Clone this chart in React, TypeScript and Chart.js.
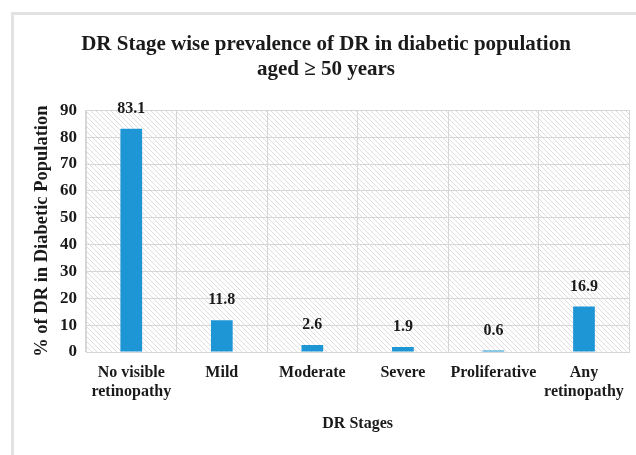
import { useEffect, useRef } from "react";
import { Chart, registerables } from "chart.js";

Chart.register(...registerables);

const titleLines = ["DR Stage wise prevalence of DR in diabetic population", "aged \u2265 50 years"];
const categories: (string | string[])[] = [
  ["No visible", "retinopathy"],
  "Mild",
  "Moderate",
  "Severe",
  "Proliferative",
  ["Any", "retinopathy"],
];
const prevalence = [83.1, 11.8, 2.6, 1.9, 0.6, 16.9];
const yMin = 0;
const yMax = 90;
const yStep = 10;
const yTitle = "% of DR in Diabetic Population";
const xTitle = "DR Stages";

const FONT = "'Liberation Serif', 'Times New Roman', serif";
const BAR = "#1e96d6";
const GRID = "#d6d6d6";

function makeHatch(): CanvasPattern | string {
  const s = 5;
  const c = document.createElement("canvas");
  c.width = s;
  c.height = s;
  const g = c.getContext("2d");
  if (!g) return "#eeeeee";
  g.fillStyle = "#ffffff";
  g.fillRect(0, 0, s, s);
  g.strokeStyle = "#dedede";
  g.lineWidth = 1;
  g.beginPath();
  g.moveTo(-1, -1);
  g.lineTo(s + 1, s + 1);
  g.moveTo(-1, s - 1);
  g.lineTo(1, s + 1);
  g.moveTo(s - 1, -1);
  g.lineTo(s + 1, 1);
  g.stroke();
  const p = g.createPattern(c, "repeat");
  return p || "#eeeeee";
}

const bgPlugin = {
  id: "bgHatch",
  beforeDraw(chart: any) {
    const { ctx, chartArea, width, height } = chart;
    ctx.save();
    ctx.fillStyle = "#ffffff";
    ctx.fillRect(0, 0, width, height);
    // outer frame
    ctx.fillStyle = "#e2e2e2";
    ctx.fillRect(11, 12, 3, height - 12);
    ctx.fillRect(11, 12, width - 11, 3);
    ctx.fillStyle = makeHatch();
    ctx.fillRect(chartArea.left, chartArea.top, chartArea.right - chartArea.left, chartArea.bottom - chartArea.top);
    ctx.restore();
  },
};

const labelPlugin = {
  id: "valueLabels",
  afterDatasetsDraw(chart: any) {
    const { ctx } = chart;
    const meta = chart.getDatasetMeta(0);
    const data = chart.data.datasets[0].data as number[];
    ctx.save();
    ctx.font = `bold 16px ${FONT}`;
    ctx.fillStyle = "#1a1a1a";
    ctx.textAlign = "center";
    ctx.textBaseline = "bottom";
    meta.data.forEach((el: any, i: number) => {
      ctx.fillText(data[i].toFixed(1), el.x, el.y - 12);
    });
    ctx.restore();
  },
};

export default function App() {
  const ref = useRef<HTMLCanvasElement | null>(null);

  useEffect(() => {
    if (!ref.current) return;
    const chart = new Chart(ref.current, {
      type: "bar",
      data: {
        labels: categories,
        datasets: [
          {
            data: prevalence,
            backgroundColor: BAR,
            borderWidth: 0,
            barPercentage: 0.48,
            categoryPercentage: 0.5,
          },
        ],
      },
      options: {
        responsive: true,
        maintainAspectRatio: false,
        animation: false,
        layout: { padding: { left: 18, right: 2, top: 0, bottom: 0 } },
        plugins: {
          legend: { display: false },
          tooltip: { enabled: false },
          title: {
            display: true,
            text: titleLines,
            color: "#1a1a1a",
            font: { family: FONT, size: 21, weight: "bold", lineHeight: 1.15 },
            padding: { top: 33, bottom: 29 },
          },
        },
        scales: {
          x: {
            grid: { display: true, color: GRID, drawTicks: false, offset: true },
            border: { display: true, color: GRID },
            ticks: {
              color: "#1a1a1a",
              font: { family: FONT, size: 16, weight: "bold", lineHeight: 1.15 },
              padding: 12,
              maxRotation: 0,
              autoSkip: false,
            },
            title: {
              display: true,
              text: xTitle,
              color: "#1a1a1a",
              font: { family: FONT, size: 16, weight: "bold" },
              padding: { top: 0, bottom: 22 },
            },
            afterFit: (s: any) => {
              s.height = 103;
            },
          },
          y: {
            min: yMin,
            max: yMax,
            grid: { color: GRID, drawTicks: false },
            border: { display: true, color: GRID },
            ticks: {
              stepSize: yStep,
              color: "#1a1a1a",
              font: { family: FONT, size: 17, weight: "bold" },
              padding: 9,
            },
            title: {
              display: true,
              text: yTitle,
              color: "#1a1a1a",
              font: { family: FONT, size: 18.5, weight: "bold" },
              padding: { top: 13, bottom: 0 },
            },
            afterFit: (s: any) => {
              s.width = 68;
            },
          },
        },
      },
      plugins: [bgPlugin, labelPlugin],
    });
    return () => chart.destroy();
  }, []);

  return (
    <div style={{ position: "fixed", left: 0, top: 0, width: 636, height: 455 }}>
      <canvas ref={ref} />
    </div>
  );
}
